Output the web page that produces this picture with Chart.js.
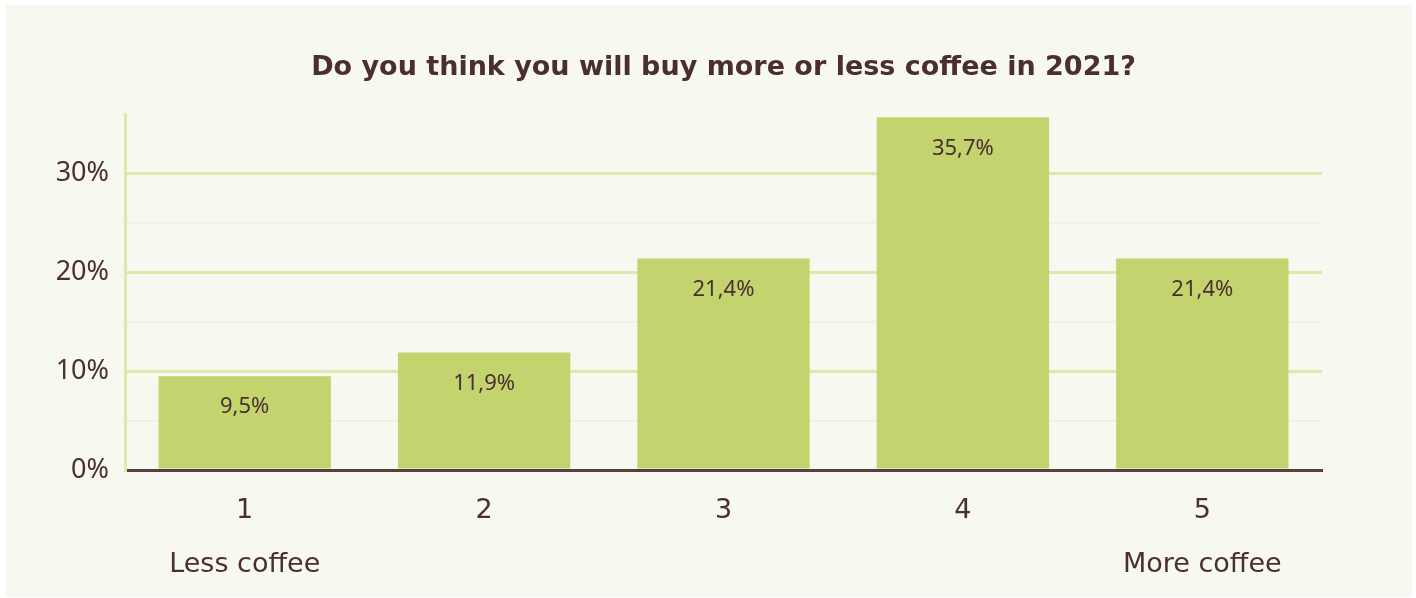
<!DOCTYPE html>
<html>
<head>
<meta charset="utf-8">
<script src="https://cdn.jsdelivr.net/npm/chart.js@4/dist/chart.umd.min.js"></script>
<style>
  html, body { margin: 0; padding: 0; background: #ffffff; }
  #panel {
    position: absolute; left: 6px; top: 5px;
    width: 1406px; height: 592px;
    background: #f7f8f0;
  }
</style>
</head>
<body>
<div id="panel"><canvas id="coffeeChart" width="1406" height="592"></canvas></div>
<script>
var categorias = [["1", "Less coffee"], "2", "3", "4", ["5", "More coffee"]];
var porcentajes = [9.5, 11.9, 21.4, 35.7, 21.4];
var marcasY = [0, 10, 20, 30];

var marron = '#4b2e2f';
var verdeBarra = '#c3d46f';
var verdeGrid = '#dde8ac';
var verdeGridSuave = '#edf2d7';
var fuente = "'Noto Sans', sans-serif";
var fuenteAncha = "'DejaVu Sans', sans-serif";

function formato(v){
    return v.toFixed(1).replace('.', ',') + '%';
}

// etiquetas de valor dentro de cada barra
var etiquetasBarras = {
    id: 'etiquetasBarras',
    afterDatasetsDraw: function(chart){
        var ctx = chart.ctx;
        var meta = chart.getDatasetMeta(0);
        ctx.save();
        ctx.font = '22px ' + fuente;
        ctx.fillStyle = marron;
        ctx.textAlign = 'center';
        ctx.textBaseline = 'middle';
        meta.data.forEach(function(bar, i){
            ctx.fillText(formato(porcentajes[i]), bar.x, bar.y + 31);
        });
        ctx.restore();
    }
};

var grafico = new Chart(document.getElementById('coffeeChart'), {
    type: 'bar',
    data: {
        labels: categorias,
        datasets: [{
            label: 'Respuestas',
            data: porcentajes,
            backgroundColor: verdeBarra,
            borderWidth: 0,
            barPercentage: 0.72,
            categoryPercentage: 1.0
        }]
    },
    options: {
        responsive: false,
        animation: false,
        layout: { padding: { left: 0, right: 90, top: 0, bottom: 0 } },
        plugins: {
            legend: { display: false },
            tooltip: { enabled: false },
            title: {
                display: true,
                fullSize: false, // centrado sobre el area de barras
                text: 'Do you think you will buy more or less coffee in 2021?',
                color: marron,
                font: { family: fuenteAncha, size: 27, weight: 'bold' },
                padding: { top: 47, bottom: 30 }
            }
        },
        scales: {
            x: {
                afterFit: function(scale){ scale.height = 127; },
                grid: { display: false, drawTicks: false },
                border: { display: true, color: '#5b3f3f', width: 3 },
                ticks: {
                    color: marron,
                    font: { family: fuenteAncha, size: 27, lineHeight: 2.0 },
                    padding: 14,
                    maxRotation: 0
                }
            },
            y: {
                min: 0,
                max: 36,
                afterFit: function(scale){ scale.width = 119; },
                afterBuildTicks: function(scale){
                    scale.ticks = scale.ticks.filter(function(t){ return t.value % 5 === 0; });
                },
                ticks: {
                    stepSize: 5,
                    color: marron,
                    font: { family: fuente, size: 27 },
                    padding: 16,
                    callback: function(v){
                        return marcasY.indexOf(v) >= 0 ? v + '%' : '';
                    }
                },
                grid: {
                    drawTicks: false,
                    color: function(c){
                        if (c.tick.value === 0) return '#5b3f3f';
                        return c.tick.value % 10 === 0 ? verdeGrid : verdeGridSuave;
                    },
                    lineWidth: function(c){
                        if (c.tick.value === 0) return 3;
                        return c.tick.value % 10 === 0 ? 3 : 1.5;
                    }
                },
                border: { display: true, color: verdeGrid, width: 3 }
            }
        }
    },
    plugins: [etiquetasBarras]
});
</script>
</body>
</html>
